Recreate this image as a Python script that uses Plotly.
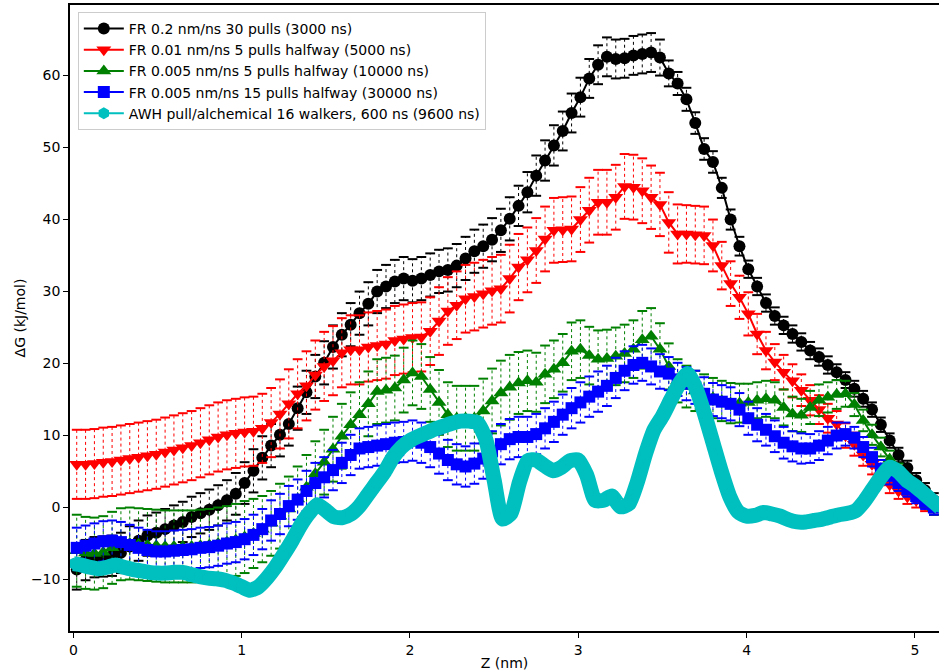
import plotly.graph_objects as go

# ---------------- data ----------------
z_fr = [round(0.02 + 0.0525 * i, 4) for i in range(98)]

fr_fast_30 = [-8.6, -7.3, -6.9, -6.8, -6.7, -6.3, -5.4, -4.6, -3.9, -3.5,
              -3.0, -2.5, -2.0, -1.3, -0.8, -0.3, 0.3, 1.0, 1.9, 3.4,
              5.1, 6.9, 8.6, 10.1, 11.6, 13.8, 16.0, 18.2, 20.1, 22.3,
              24.0, 25.4, 27.0, 28.3, 30.0, 30.7, 31.4, 31.8, 31.5, 31.8,
              32.3, 32.8, 33.0, 33.6, 34.6, 35.6, 36.3, 37.2, 38.5, 40.1,
              41.9, 43.8, 46.1, 48.2, 50.3, 52.3, 54.8, 57.0, 59.6, 61.5,
              62.6, 62.3, 62.4, 62.8, 63.0, 63.2, 62.5, 60.3, 58.9, 56.7,
              53.4, 49.8, 48.0, 44.4, 40.0, 36.3, 33.1, 30.7, 28.4, 26.6,
              25.3, 24.1, 23.0, 21.8, 20.9, 19.8, 18.8, 17.7, 16.5, 15.1,
              13.6, 11.5, 9.3, 7.3, 5.5, 3.8, 2.4, 1.0]
fr_fast_30_err = [2.8, 2.8, 2.8, 2.8, 2.8, 2.8, 2.8, 2.8, 2.8, 2.8,
                  2.8, 2.8, 2.8, 2.8, 2.8, 2.8, 2.8, 2.8, 2.9, 2.9,
                  3.0, 3.0, 3.0, 3.0, 3.0, 3.0, 3.0, 3.0, 3.0, 3.0,
                  3.0, 3.0, 3.0, 3.0, 3.0, 3.0, 3.0, 3.0, 3.0, 3.0,
                  3.0, 3.0, 3.0, 3.0, 3.0, 3.0, 3.0, 3.0, 3.0, 3.0,
                  2.8, 2.8, 2.8, 2.8, 2.8, 2.7, 2.7, 2.7, 2.7, 2.7,
                  2.7, 2.7, 2.7, 2.7, 2.7, 2.7, 2.5, 1.8, 1.6, 1.6,
                  1.5, 1.5, 1.5, 1.4, 1.4, 1.3, 1.2, 1.2, 1.2, 1.2,
                  1.2, 1.2, 1.2, 1.2, 1.2, 1.2, 1.1, 1.1, 1.1, 1.1,
                  1.0, 1.0, 1.0, 1.0, 1.0, 1.0, 1.0, 1.0]

fr_slow_5 = [6.0, 6.0, 6.1, 6.3, 6.4, 6.6, 6.8, 7.0, 7.2, 7.4,
             7.7, 8.0, 8.3, 8.6, 9.0, 9.4, 9.8, 10.1, 10.3, 10.5,
             10.6, 11.0, 11.8, 13.0, 14.4, 15.8, 16.9, 18.4, 19.6, 20.4,
             21.5, 21.9, 21.9, 22.3, 22.5, 22.7, 23.2, 23.4, 23.6, 23.7,
             24.5, 25.9, 27.3, 28.1, 29.0, 29.3, 29.7, 30.1, 30.4, 31.8,
             33.4, 34.4, 35.7, 37.3, 38.5, 38.6, 38.7, 40.0, 41.3, 42.4,
             42.4, 43.1, 44.6, 44.5, 44.0, 43.1, 42.1, 39.6, 38.0, 38.0,
             37.9, 37.8, 36.4, 33.6, 31.1, 29.2, 26.9, 24.1, 21.8, 20.2,
             18.8, 17.6, 16.3, 14.9, 13.6, 12.4, 11.6, 10.0, 8.8, 7.3,
             6.0, 4.4, 3.2, 2.3, 1.5, 1.0, 0.5, 0.0]
fr_slow_5_err = [4.8, 4.8, 4.8, 4.8, 4.8, 4.8, 4.8, 4.8, 4.8, 4.8,
                 4.8, 4.8, 4.8, 4.8, 4.8, 4.8, 4.8, 4.8, 4.8, 4.8,
                 4.8, 4.8, 4.8, 4.8, 4.8, 4.8, 4.8, 4.8, 4.8, 4.8,
                 4.8, 4.8, 4.8, 4.8, 4.8, 4.8, 4.8, 4.8, 4.8, 4.8,
                 4.7, 4.7, 4.7, 4.7, 4.7, 4.7, 4.7, 4.7, 4.7, 4.7,
                 4.6, 4.5, 4.5, 4.5, 4.5, 4.5, 4.5, 4.5, 4.5, 4.5,
                 4.5, 4.5, 4.5, 4.5, 4.5, 4.4, 4.4, 4.2, 4.1, 4.0,
                 4.0, 4.0, 3.6, 3.3, 3.1, 3.0, 3.0, 2.8, 2.6, 2.5,
                 2.4, 2.3, 2.2, 2.1, 2.0, 2.0, 1.8, 1.7, 1.6, 1.5,
                 1.4, 1.3, 1.2, 1.1, 1.0, 1.0, 1.0, 1.0]

fr_slow_5b = [-6.0, -6.3, -6.4, -6.2, -5.6, -5.1, -5.0, -5.1, -5.2, -5.3,
              -5.4, -5.4, -5.4, -5.4, -5.3, -5.2, -5.0, -4.8, -4.5, -4.1,
              -3.6, -3.0, -2.2, -1.2, -0.2, 1.2, 2.8, 4.7, 6.3, 8.1,
              9.9, 11.5, 12.9, 14.4, 16.1, 16.3, 16.6, 17.7, 18.7, 18.2,
              16.4, 14.6, 12.9, 12.4, 12.4, 12.4, 13.4, 14.8, 15.9, 16.7,
              17.3, 17.6, 17.4, 18.5, 19.2, 20.1, 21.7, 22.0, 21.1, 20.6,
              20.7, 21.0, 21.4, 22.0, 23.3, 23.8, 22.0, 19.6, 17.6, 16.8,
              16.2, 15.7, 15.2, 14.8, 14.5, 14.5, 14.6, 14.9, 15.1, 14.9,
              13.9, 13.0, 12.8, 13.9, 14.9, 15.3, 15.7, 15.8, 14.3, 12.1,
              10.1, 8.4, 6.7, 5.0, 3.5, 2.2, 1.0, 0.0]
fr_slow_5b_err = [5.0, 5.0, 5.0, 5.0, 5.0, 5.0, 5.0, 5.0, 5.0, 5.0,
                  5.0, 5.0, 5.0, 5.0, 5.0, 5.0, 5.0, 5.0, 5.0, 5.0,
                  4.8, 4.6, 4.5, 4.5, 4.5, 4.5, 4.5, 4.5, 4.5, 4.5,
                  4.5, 4.5, 4.5, 4.5, 4.5, 4.5, 4.5, 4.5, 4.5, 4.5,
                  4.5, 4.5, 4.5, 4.5, 4.5, 4.5, 4.5, 4.5, 4.5, 4.5,
                  4.3, 4.2, 4.1, 4.0, 4.0, 4.0, 4.0, 4.0, 4.0, 4.0,
                  4.0, 4.0, 4.0, 4.0, 4.0, 3.9, 3.6, 3.2, 3.0, 2.9,
                  2.8, 2.8, 2.8, 2.8, 2.8, 2.7, 2.6, 2.5, 2.5, 2.5,
                  2.5, 2.4, 2.3, 2.3, 2.2, 2.1, 2.0, 1.8, 1.6, 1.5,
                  1.4, 1.3, 1.2, 1.1, 1.0, 1.0, 1.0, 1.0]

fr_slow_15 = [-5.6, -5.3, -5.0, -4.7, -4.6, -4.8, -5.2, -5.6, -5.9, -6.1,
              -6.1, -6.0, -5.9, -5.8, -5.6, -5.5, -5.3, -5.0, -4.8, -4.4,
              -3.8, -3.0, -1.8, -0.9, 0.2, 1.1, 2.3, 3.4, 4.2, 5.2,
              6.2, 7.3, 8.2, 8.4, 8.6, 8.8, 9.0, 9.1, 9.3, 9.0,
              8.4, 7.5, 6.6, 6.0, 5.7, 6.1, 6.8, 7.8, 8.8, 9.5,
              9.8, 9.8, 10.2, 11.0, 11.9, 12.9, 13.8, 14.6, 15.4, 16.1,
              16.9, 18.0, 19.0, 19.8, 20.1, 19.6, 18.9, 18.6, 17.8, 17.2,
              16.7, 15.8, 15.0, 14.7, 14.4, 13.6, 12.4, 11.5, 10.8, 9.9,
              9.0, 8.5, 8.2, 8.2, 8.6, 9.3, 10.0, 10.2, 9.7, 8.4,
              7.0, 5.4, 4.4, 3.4, 2.5, 1.6, 0.8, 0.0]
fr_slow_15_err = [2.8, 2.8, 2.8, 2.8, 2.8, 2.8, 2.8, 2.8, 2.8, 2.8,
                  2.8, 2.8, 2.8, 2.8, 2.8, 2.8, 2.8, 2.8, 2.8, 2.8,
                  2.8, 2.8, 2.8, 2.8, 2.8, 2.8, 2.8, 2.8, 2.8, 2.8,
                  2.8, 2.8, 2.8, 2.8, 2.8, 2.8, 2.8, 2.8, 2.8, 2.8,
                  2.8, 2.8, 2.8, 2.8, 2.8, 2.8, 2.8, 2.8, 2.8, 2.8,
                  2.8, 2.8, 2.8, 2.8, 2.8, 2.8, 2.8, 2.8, 2.8, 2.8,
                  2.8, 2.8, 2.7, 2.6, 2.5, 2.5, 2.4, 2.3, 2.3, 2.3,
                  2.3, 2.3, 2.3, 2.3, 2.3, 2.3, 2.3, 2.3, 2.2, 2.2,
                  2.2, 2.1, 2.1, 2.0, 2.0, 1.9, 1.8, 1.6, 1.5, 1.4,
                  1.3, 1.2, 1.2, 1.1, 1.0, 1.0, 1.0, 1.0]

z_awh = [round(0.05 * i, 2) for i in range(104)]
awh = [-7.8, -8.0, -8.3, -8.5, -8.3, -8.0, -8.3, -8.6, -8.8, -9.0,
       -9.1, -9.1, -9.0, -9.0, -9.3, -9.6, -9.8, -9.9, -10.1, -10.5,
       -11.0, -11.5, -11.0, -9.8, -8.3, -6.5, -4.6, -2.5, -0.8, 0.4,
       -0.4, -1.3, -1.4, -0.9, 0.2, 1.8, 3.4, 5.0, 7.0, 8.4,
       9.3, 9.9, 10.4, 10.9, 11.3, 11.7, 12.0, 12.0, 11.8, 9.5,
       3.8, -1.6, -0.8, 3.5, 6.5, 6.6, 5.8, 5.1, 5.6, 6.5,
       6.6, 4.5, 1.0, 1.0, 1.6, 0.1, 0.5, 3.5, 7.5, 10.8,
       12.7, 15.0, 17.2, 18.6, 16.5, 13.0, 9.0, 5.0, 1.5, -0.6,
       -1.2, -1.1, -0.7, -0.9, -1.2, -1.7, -2.0, -2.0, -1.8, -1.6,
       -1.3, -1.0, -0.8, -0.4, 0.9, 2.6, 4.3, 5.6, 5.0, 3.8,
       3.0, 2.0, 1.0, 0.0]

labels = ["FR 0.2 nm/ns 30 pulls (3000 ns)",
          "FR 0.01 nm/ns 5 pulls halfway (5000 ns)",
          "FR 0.005 nm/ns 5 pulls halfway (10000 ns)",
          "FR 0.005 nm/ns 15 pulls halfway (30000 ns)",
          "AWH pull/alchemical 16 walkers, 600 ns (9600 ns)"]

x_ticks = [0, 1, 2, 3, 4, 5]
y_ticks = [-10, 0, 10, 20, 30, 40, 50, 60]

# ---------------- figure ----------------
fig = go.Figure()

series = [
    (fr_fast_30, fr_fast_30_err, labels[0], "#000000", "circle", 12),
    (fr_slow_5, fr_slow_5_err, labels[1], "#ff0000", "triangle-down", 13),
    (fr_slow_5b, fr_slow_5b_err, labels[2], "#008000", "triangle-up", 13),
    (fr_slow_15, fr_slow_15_err, labels[3], "#0000ff", "square", 12),
]

for ys, es, name, col, sym, msize in series:
    ex, ey = [], []
    for x, y, e in zip(z_fr, ys, es):
        ex += [x, x, None]
        ey += [y - e, y + e, None]
    fig.add_trace(go.Scatter(x=ex, y=ey, mode="lines", showlegend=False, hoverinfo="skip",
                             line=dict(color=col, width=1, dash="dot")))
    capx = z_fr + z_fr
    capy = [y - e for y, e in zip(ys, es)] + [y + e for y, e in zip(ys, es)]
    fig.add_trace(go.Scatter(x=capx, y=capy, mode="markers", showlegend=False, hoverinfo="skip",
                             marker=dict(symbol="line-ew", size=7, color=col,
                                         line=dict(color=col, width=2))))
    fig.add_trace(go.Scatter(x=z_fr, y=ys, mode="lines+markers", name=name,
                             line=dict(color=col, width=2),
                             marker=dict(symbol=sym, size=msize, color=col, line=dict(width=0))))

cyan = "#00bfbf"
fig.add_trace(go.Scatter(x=z_awh, y=awh, mode="lines", showlegend=False, hoverinfo="skip",
                         line=dict(color=cyan, width=15, shape="spline", smoothing=0.6)))
fig.add_trace(go.Scatter(x=z_awh, y=awh, mode="lines+markers", name=labels[4],
                         line=dict(color=cyan, width=2),
                         marker=dict(symbol="hexagon", size=12, color=cyan, line=dict(width=0))))

fig.update_layout(
    width=939, height=672,
    margin=dict(l=70, r=0, t=5, b=41),
    plot_bgcolor="white", paper_bgcolor="white",
    font=dict(family="DejaVu Sans", size=14, color="black"),
    legend=dict(x=0.009, y=0.989, xanchor="left", yanchor="top",
                bgcolor="rgba(255,255,255,0.85)", bordercolor="#cccccc", borderwidth=1,
                font=dict(size=14), itemwidth=40),
    xaxis=dict(range=[-0.02, 5.143], tickvals=x_ticks, showline=True, linecolor="black",
               linewidth=1.5, mirror=True, ticks="outside", ticklen=5, tickcolor="black",
               showgrid=False, zeroline=False, automargin=False,
               title=dict(text="Z (nm)", standoff=2, font=dict(size=14))),
    yaxis=dict(range=[-17.15, 69.8], tickvals=y_ticks, showline=True, linecolor="black",
               linewidth=1.5, ticks="outside", ticklen=5, tickcolor="black",
               showgrid=False, zeroline=False, automargin=False,
               title=dict(text="ΔG (kJ/mol)", standoff=2, font=dict(size=14))),
)

fig.write_html("out.html", config={"displayModeBar": False},
               post_script="document.body.style.margin='0px';")
